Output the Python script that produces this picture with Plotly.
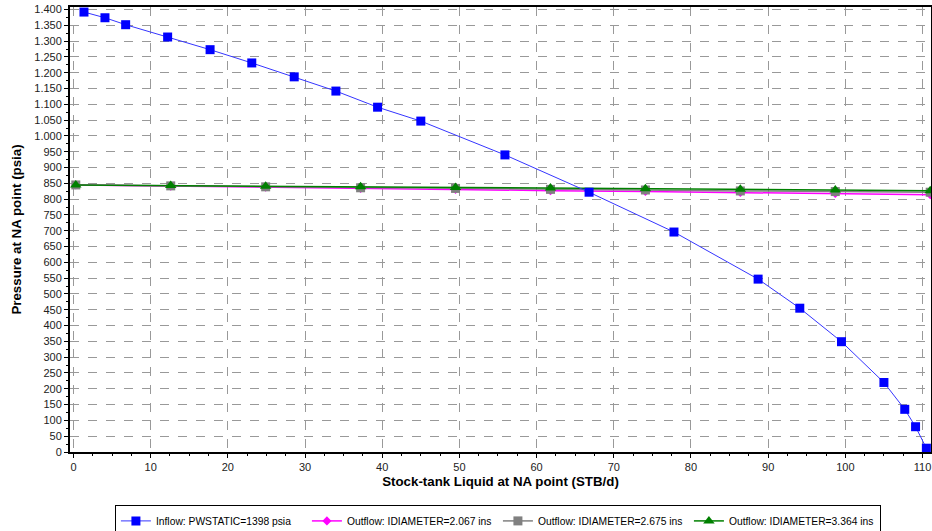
import plotly.graph_objects as go

# Inflow (IPR) curve
inflow_x = [1.36, 4.08, 6.76, 12.2, 17.7, 23.1, 28.6, 34.0, 39.4, 45.0, 55.9, 66.8,
            77.8, 88.7, 94.1, 99.5, 105.0, 107.7, 109.1, 110.5]
inflow_y = [1392, 1374, 1352, 1313, 1273, 1231, 1187, 1142, 1091, 1047, 940, 822,
            696, 547, 455, 349, 220, 135, 80, 12]

# Outflow (VLP) curves
outflow_x = [0.3, 12.6, 24.9, 37.2, 49.5, 61.8, 74.1, 86.4, 98.7, 111.0]
out_2067 = [845, 841, 838, 834, 831, 827, 824, 821, 818, 814]
out_2675 = [845, 842, 839, 836, 834, 831, 829, 826, 824, 822]
out_3364 = [845, 843, 841, 839, 837, 835, 833, 831, 829, 827]

names = ["Inflow: PWSTATIC=1398 psia",
         "Outflow: IDIAMETER=2.067 ins",
         "Outflow: IDIAMETER=2.675 ins",
         "Outflow: IDIAMETER=3.364 ins"]

y_ticks = list(range(0, 1401, 50))
x_ticks = list(range(0, 111, 10))

FONT = "Liberation Sans, Arial"

fig = go.Figure()
fig.add_trace(go.Scatter(x=outflow_x, y=out_2067, name=names[1], mode="lines+markers",
                         line=dict(color="#ff00ff", width=1.5),
                         marker=dict(symbol="diamond", size=7, color="#ff00ff"),
                         legendrank=2))
fig.add_trace(go.Scatter(x=outflow_x, y=out_2675, name=names[2], mode="lines+markers",
                         line=dict(color="#808080", width=1.5),
                         marker=dict(symbol="square", size=9, color="#808080"),
                         legendrank=3))
fig.add_trace(go.Scatter(x=outflow_x, y=out_3364, name=names[3], mode="lines+markers",
                         line=dict(color="#008000", width=1.5),
                         marker=dict(symbol="triangle-up", size=10, color="#008000"),
                         legendrank=4))
fig.add_trace(go.Scatter(x=inflow_x, y=inflow_y, name=names[0], mode="lines+markers",
                         line=dict(color="#3535ff", width=1),
                         marker=dict(symbol="square", size=9, color="#0000ff"),
                         legendrank=1))

axis_common = dict(
    showline=True, linecolor="black", linewidth=2, mirror=True,
    showgrid=True, gridcolor="#999999", griddash="dash", gridwidth=1,
    ticks="outside", ticklen=4, tickcolor="black",
    tickfont=dict(family=FONT, size=11, color="#222222"),
    zeroline=False, automargin=False,
)

fig.update_layout(
    width=932, height=531,
    margin=dict(l=70, r=1, t=7, b=79, autoexpand=False),
    paper_bgcolor="white", plot_bgcolor="white",
    separators=",.",
    font=dict(family=FONT, size=11, color="black"),
    xaxis=dict(range=[-0.45, 111.1], tickvals=x_ticks,
               minor=dict(dtick=2.5, ticks="outside", ticklen=2, tickcolor="black", showgrid=False),
               title=dict(text="<b>Stock-tank Liquid at NA point (STB/d)</b>",
                          font=dict(size=13.3, family=FONT), standoff=4),
               **axis_common),
    yaxis=dict(range=[0, 1408], tickvals=y_ticks, tickformat=",",
               minor=dict(dtick=25, ticks="outside", ticklen=2, tickcolor="black", showgrid=False),
               title=dict(text="<b>Pressure at NA point (psia)</b>",
                          font=dict(size=13.3, family=FONT), standoff=10),
               **axis_common),
    legend=dict(orientation="h", x=0.497, xanchor="center", y=-0.12, yanchor="top",
                bordercolor="black", borderwidth=1, bgcolor="white",
                font=dict(size=10.3, family=FONT),
                itemwidth=30, tracegroupgap=0,
                entrywidth=146, entrywidthmode="pixels"),
    showlegend=True,
)

fig.write_html("out.html", config={"displayModeBar": False},
               post_script="document.body.style.margin='0';document.body.style.overflow='hidden';")
